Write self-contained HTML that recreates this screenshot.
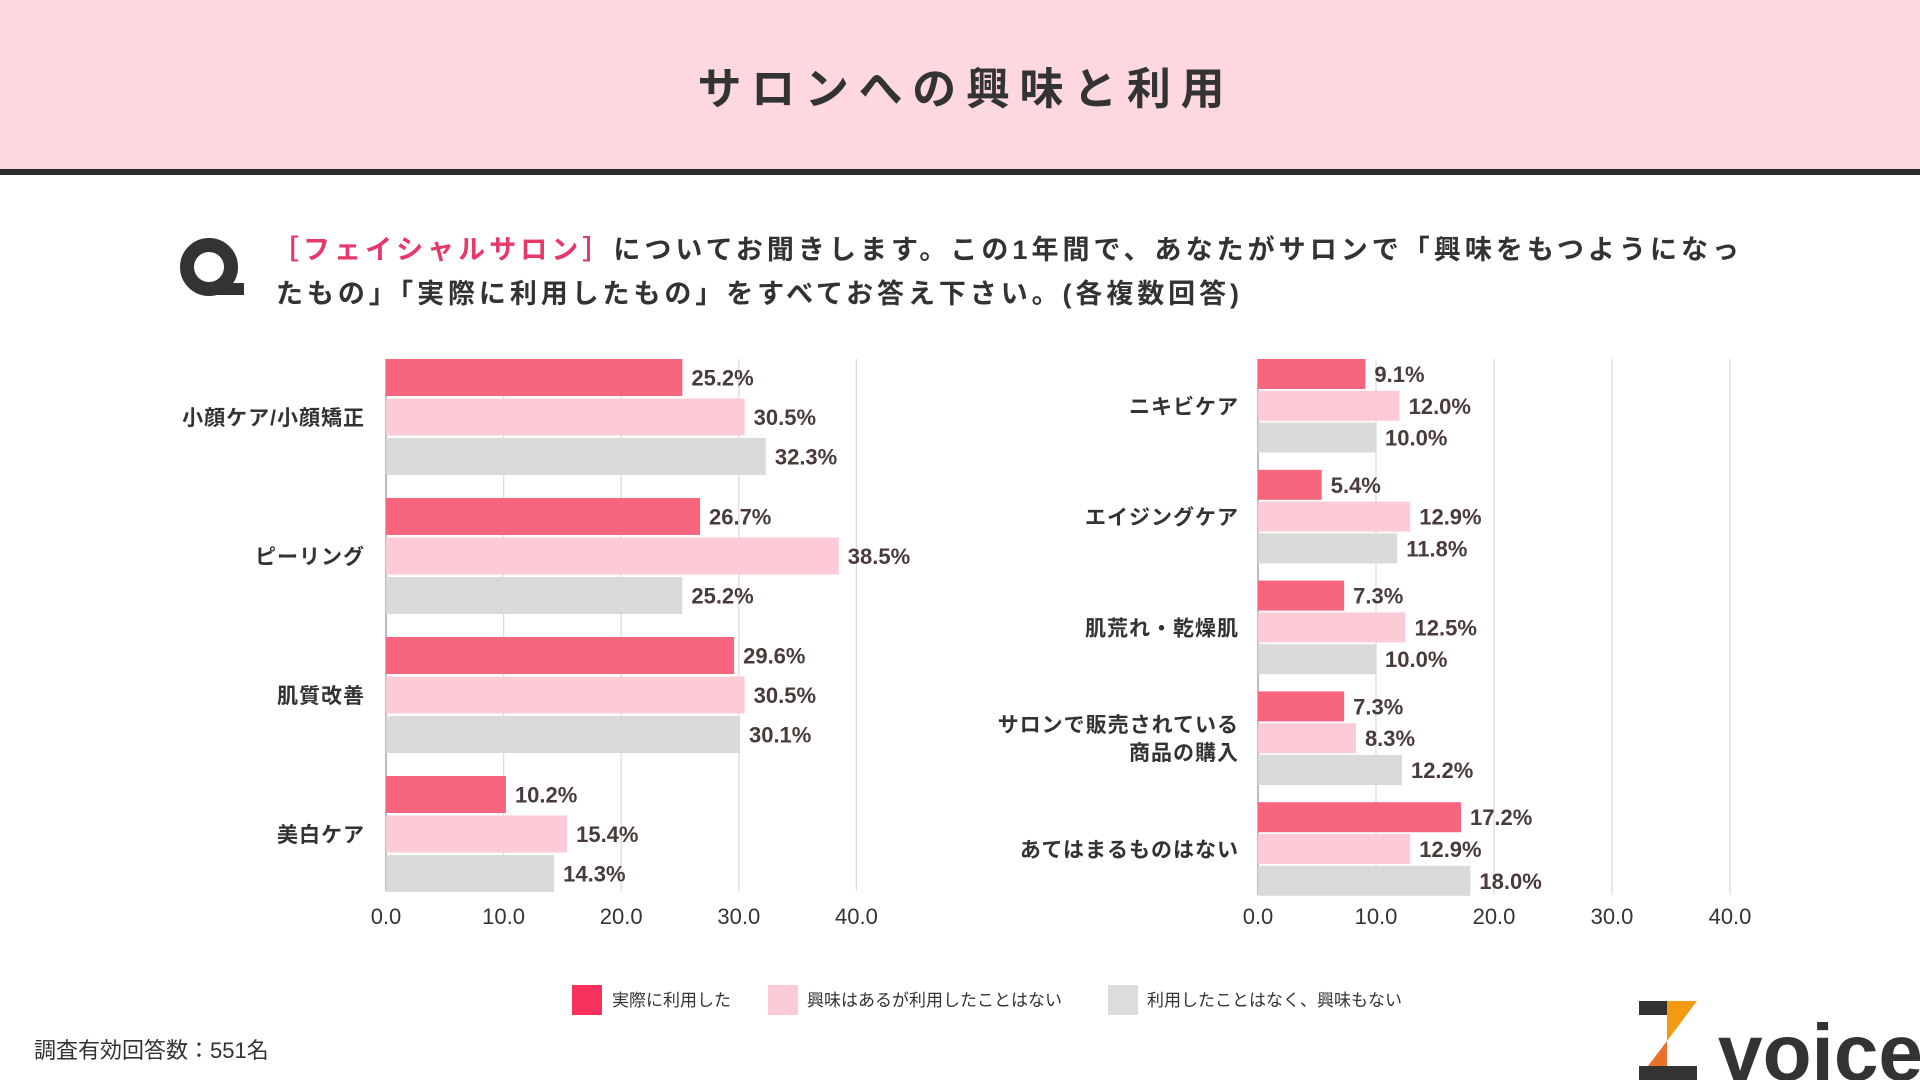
<!DOCTYPE html>
<html><head><meta charset="utf-8"><style>
html,body{margin:0;padding:0;background:#fff;}
svg{display:block;font-family:"Liberation Sans","Noto Sans CJK JP",sans-serif;}
</style></head><body>
<svg id="chart" width="1920" height="1080" viewBox="0 0 1920 1080">
<rect x="0" y="0" width="1920" height="170" fill="#fdd8df"/>
<rect x="0" y="169" width="1920" height="6" fill="#2f2b2b"/>
<text x="961" y="104" text-anchor="middle" font-size="44" font-weight="bold" fill="#333" textLength="527" lengthAdjust="spacing">サロンへの興味と利用</text>
<g>
<circle cx="209" cy="267" r="22" fill="none" stroke="#333" stroke-width="14"/>
<rect x="210" y="283" width="34" height="12" fill="#333"/>
</g>
<text x="272" y="259" font-size="27" font-weight="bold" fill="#333" textLength="1467" lengthAdjust="spacing"><tspan fill="#e8386a">［フェイシャルサロン］</tspan>についてお聞きします。この1年間で、あなたがサロンで「興味をもつようになっ</text>
<text x="276" y="303" font-size="27" font-weight="bold" fill="#333" textLength="963" lengthAdjust="spacing">たもの」「実際に利用したもの」をすべてお答え下さい。(各複数回答)</text>
<g id="left"></g>
<g id="right"></g>
<g>
<rect x="572" y="985" width="30" height="30" fill="#f8325c"/>
<text x="612" y="1006" font-size="17" fill="#333">実際に利用した</text>
<rect x="768" y="985" width="30" height="30" fill="#fdcbd5"/>
<text x="807" y="1006" font-size="17" fill="#333">興味はあるが利用したことはない</text>
<rect x="1108" y="985" width="30" height="30" fill="#dcdcdc"/>
<text x="1147" y="1006" font-size="17" fill="#333">利用したことはなく、興味もない</text>
</g>
<text x="34" y="1058" font-size="22" fill="#333">調査有効回答数：551名</text>
<g>
<rect x="1639" y="1001" width="28" height="14" fill="#333"/>
<polygon points="1667,1001 1697,1001 1667,1041" fill="#f39a12"/>
<polygon points="1667,1041 1667,1066 1648,1066" fill="#e8722a"/>
<rect x="1639" y="1066" width="58" height="14" fill="#333"/>
<text x="1718" y="1080" font-size="80" font-weight="bold" fill="#333" textLength="205" lengthAdjust="spacingAndGlyphs">voice</text>
</g>
</svg>
<script>
const leftCats = ["小顔ケア/小顔矯正","ピーリング","肌質改善","美白ケア"];
const leftUsed = [25.2,26.7,29.6,10.2];
const leftInterested = [30.5,38.5,30.5,15.4];
const leftNone = [32.3,25.2,30.1,14.3];
const rightCats = [["ニキビケア"],["エイジングケア"],["肌荒れ・乾燥肌"],["サロンで販売されている","商品の購入"],["あてはまるものはない"]];
const rightUsed = [9.1,5.4,7.3,7.3,17.2];
const rightInterested = [12.0,12.9,12.5,8.3,12.9];
const rightNone = [10.0,11.8,10.0,12.2,18.0];
const ticks = [0,10,20,30,40];
const tickLabels = ["0.0","10.0","20.0","30.0","40.0"];
const colors = ["#f7657f","#fdcbd5","#dadada"];
const NS = "http://www.w3.org/2000/svg";
function mk(parent, tag, attrs, txt){
  const e = document.createElementNS(NS, tag);
  for (const k in attrs) e.setAttribute(k, attrs[k]);
  if (txt !== undefined) e.textContent = txt;
  parent.appendChild(e);
  return e;
}
function drawChart(gid, cats, series, cfg){
  const g = document.getElementById(gid);
  const x = v => cfg.x0 + v * cfg.unit;
  ticks.forEach((t,i)=>{
    const gl = mk(g,"line",{x1:x(t),x2:x(t),y1:cfg.top,y2:cfg.bottom,stroke: i===0?"#999":"#dcdcdc","stroke-width":1.3});
    
    
    const tl = mk(g,"text",{x:x(t),y:cfg.tickY,"text-anchor":"middle","font-size":22,fill:"#333"},tickLabels[i]);
    
    
  });
  cats.forEach((c,ci)=>{
    const gy = cfg.top + ci*cfg.pitch;
    series.forEach((s,si)=>{
      const y = gy + si*cfg.barStep;
      const r = mk(g,"rect",{x:x(0),y:y,width:x(s[ci])-x(0),height:cfg.barH,fill:colors[si]});
      
      
      const vl = mk(g,"text",{x:x(s[ci])+9,y:y+cfg.barH/2+8,"font-size":22,"font-weight":"bold",fill:"#4a3b3b"},s[ci].toFixed(1)+"%");
      
      
    });
    const cy = gy + (cfg.barStep*2 + cfg.barH)/2;
    const lines = Array.isArray(c) ? c : [c];
    lines.forEach((ln,li)=>{
      const ly = cy + 8 + (li - (lines.length-1)/2)*28;
      const cl = mk(g,"text",{x:cfg.labelX,y:ly,"text-anchor":"end","font-size":21,"font-weight":"bold",fill:"#333","letter-spacing":1},ln);
      
      
    });
  });
}
drawChart("left", leftCats, [leftUsed,leftInterested,leftNone],
  {x0:386,unit:11.76,top:359,bottom:891,pitch:139,barH:37,barStep:39.5,labelX:365,tickY:924});
drawChart("right", rightCats, [rightUsed,rightInterested,rightNone],
  {x0:1258,unit:11.8,top:359,bottom:895,pitch:110.8,barH:30,barStep:31.8,labelX:1239,tickY:924});
</script>
</body></html>
